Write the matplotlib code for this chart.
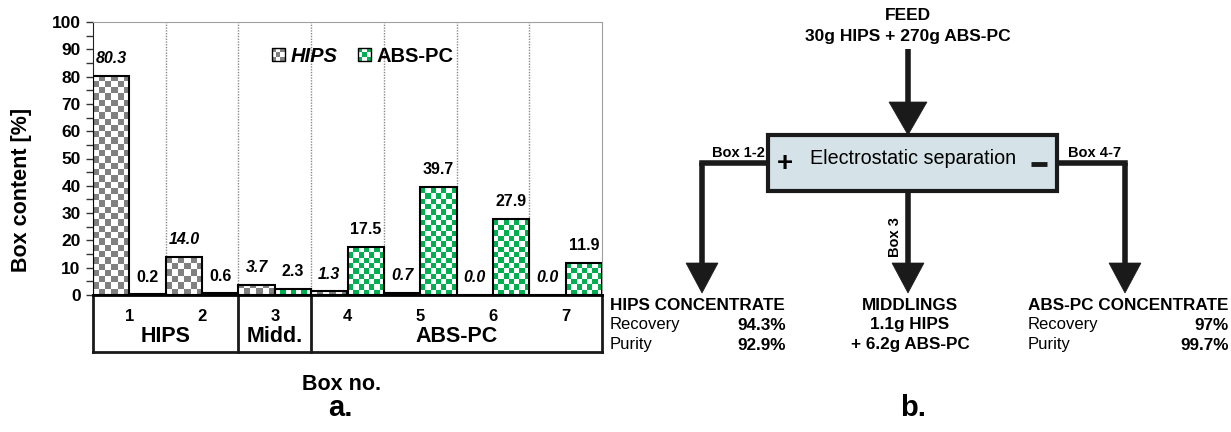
import numpy as np
import matplotlib
matplotlib.use('Agg')
import matplotlib.pyplot as plt
from matplotlib.colors import ListedColormap
from matplotlib.patches import Rectangle, Polygon, Patch
from matplotlib.legend_handler import HandlerBase

plt.rcParams['font.family'] = ['Liberation Sans', 'DejaVu Sans']

# a. box contents
box_no = ['1', '2', '3', '4', '5', '6', '7']
hips = [80.3, 14.0, 3.7, 1.3, 0.7, 0.0, 0.0]
abs_pc = [0.2, 0.6, 2.3, 17.5, 39.7, 27.9, 11.9]
groups = ['HIPS', 'Midd.', 'ABS-PC']
group_span = [(0, 1), (2, 2), (3, 6)]

# b. flowsheet texts
feed = ['FEED', '30g HIPS + 270g ABS-PC']
hips_conc = ['HIPS CONCENTRATE', ['Recovery', 'Purity'], ['94.3%', '92.9%']]
middlings = ['MIDDLINGS', '1.1g HIPS', '+ 6.2g ABS-PC']
abs_conc = ['ABS-PC CONCENTRATE', ['Recovery', 'Purity'], ['97%', '99.7%']]

GRAY = '#808080'
GREEN = '#00b050'
DARK = '#1a1a1a'


class CheckerHandler(HandlerBase):
    def __init__(self, color):
        super().__init__()
        self.color = color

    def create_artists(self, legend, orig_handle, xdescent, ydescent,
                       width, height, fontsize, trans):
        s = min(width, height)
        x0 = -xdescent + (width - s) / 2
        y0 = -ydescent + (height - s) / 2
        n = 3
        d = s / n
        arts = []
        for i in range(n):
            for j in range(n):
                c = self.color if (i + j) % 2 == 0 else 'white'
                arts.append(Rectangle((x0 + i*d, y0 + j*d), d, d, facecolor=c,
                                      edgecolor='none', transform=trans))
        arts.append(Rectangle((x0, y0), s, s, facecolor='none', edgecolor='k',
                              lw=1, transform=trans))
        return arts


def checker(ax, bars, color, ncol, sq):
    cmap = ListedColormap(['white', color])
    for b in bars:
        h = b.get_height()
        if h <= 0:
            continue
        nrow = int(np.ceil(h / sq))
        pat = np.add.outer(np.arange(nrow), np.arange(ncol)) % 2
        x0 = b.get_x()
        im = ax.imshow(pat, cmap=cmap, vmin=0, vmax=1, origin='lower',
                       extent=(x0, x0 + b.get_width(), 0, nrow*sq),
                       aspect='auto', interpolation='nearest', zorder=2)
        im.set_clip_path(b)


fig = plt.figure(figsize=(12.31, 4.32), dpi=100)
ax = fig.add_axes([93/1231, (432-295)/432, (602-93)/1231, (295-22)/432])

x = np.arange(len(box_no))
b1 = ax.bar(x - 0.5, hips, width=0.5, align='edge', facecolor='none',
            edgecolor='k', lw=1.5, zorder=3)
b2 = ax.bar(x, abs_pc, width=0.5, align='edge', facecolor='none',
            edgecolor='k', lw=1.5, zorder=3)
checker(ax, b1, GRAY, 6, 2.3)
checker(ax, b2, GREEN, 7, 1.95)

for xi, v in zip(x, hips):
    ax.annotate(f'{v:.1f}', (xi - 0.25, v), xytext=(0, 12.5), textcoords='offset points',
                ha='center', va='center', fontsize=11.5, fontweight='bold', fontstyle='italic')
for xi, v in zip(x, abs_pc):
    ax.annotate(f'{v:.1f}', (xi + 0.25, v), xytext=(0, 12.5), textcoords='offset points',
                ha='center', va='center', fontsize=11.5, fontweight='bold')

for g in np.arange(0.5, len(box_no) - 1, 1):
    ax.axvline(g, color='#8a8a8a', ls=(0, (1, 1)), lw=1, zorder=1)

ax.set_xlim(-0.5, len(box_no) - 0.5)
ax.set_ylim(0, 100)
ax.set_xticks([])
ax.set_yticks(range(0, 101, 10))
ax.set_yticks(range(5, 100, 10), minor=True)
ax.tick_params(axis='y', which='both', direction='out', length=5, width=1,
               color='#333333', labelsize=12.5, pad=4)
for lbl in ax.get_yticklabels():
    lbl.set_fontweight('bold')
ax.spines['left'].set_color('#222222')
ax.spines['top'].set_color('#a0a0a0')
ax.spines['right'].set_color('#a0a0a0')
ax.spines['bottom'].set_linewidth(2)
ax.spines['bottom'].set_zorder(4)

# category table under the axis
tr = ax.get_xaxis_transform()
tb = -0.209
ax.plot([-0.5, len(box_no) - 0.5], [tb, tb], color=DARK, lw=2, transform=tr, clip_on=False)
for lo, hi in group_span:
    ax.plot([lo - 0.5, lo - 0.5], [0, tb], color=DARK, lw=2, transform=tr, clip_on=False)
ax.plot([len(box_no) - 0.5] * 2, [0, tb], color=DARK, lw=2, transform=tr, clip_on=False)
for xi, t in zip(x, box_no):
    ax.text(xi, -0.08, t, transform=tr, ha='center', va='center', fontsize=12, fontweight='bold')
for (lo, hi), g in zip(group_span, groups):
    ax.text((lo + hi) / 2, -0.152, g, transform=tr, ha='center', va='center',
            fontsize=15.5, fontweight='bold')

h1, h2 = Patch(), Patch()
leg = ax.legend([h1, h2], ['HIPS', 'ABS-PC'],
                handler_map={h1: CheckerHandler(GRAY), h2: CheckerHandler(GREEN)},
                loc='center', bbox_to_anchor=(0.53, 0.875), ncol=2, frameon=False,
                prop={'weight': 'bold', 'size': 14.5}, handlelength=0.65, handleheight=0.65,
                handletextpad=0.3, columnspacing=1.0)
leg.get_texts()[0].set_fontstyle('italic')

# overlay in pixel units for labels and flowsheet
ov = fig.add_axes([0, 0, 1, 1])
ov.set_xlim(0, 1231)
ov.set_ylim(432, 0)
ov.axis('off')

ov.text(22, 190, 'Box content [%]', rotation=90, ha='center', va='center',
        fontsize=15.5, fontweight='bold')
ov.text(342, 385, 'Box no.', ha='center', va='center', fontsize=15.5, fontweight='bold')
ov.text(340, 408, 'a.', ha='center', va='center', fontsize=21, fontweight='bold')
ov.text(913, 408, 'b.', ha='center', va='center', fontsize=21, fontweight='bold')

LW = 4


def down_arrow(xc, y0, tip, half=16, head=30):
    ov.plot([xc, xc], [y0, tip - head + 2], color=DARK, lw=LW, solid_capstyle='butt')
    ov.add_patch(Polygon([(xc - half, tip - head), (xc + half, tip - head), (xc, tip)],
                         closed=True, facecolor=DARK, edgecolor=DARK, lw=0.5))


ov.text(908, 15, feed[0], ha='center', va='center', fontsize=12.5, fontweight='bold')
ov.text(908, 37, feed[1], ha='center', va='center', fontsize=12.5, fontweight='bold')
down_arrow(908, 49, 135, half=19, head=33)

ov.add_patch(Rectangle((768, 135), 289, 56, facecolor='#d5e2e7', edgecolor=DARK, lw=3, zorder=3))
ov.text(913, 158, 'Electrostatic separation', ha='center', va='center', fontsize=14.2, zorder=4)
ov.text(785, 164, '+', ha='center', va='center', fontsize=20, fontweight='bold', zorder=4)
ov.plot([1031, 1047], [164, 164], color=DARK, lw=3.5, solid_capstyle='butt', zorder=4)

ov.plot([768, 702], [163, 163], color=DARK, lw=LW, solid_capstyle='projecting')
down_arrow(702, 163, 293)
ov.plot([1057, 1125], [163, 163], color=DARK, lw=LW, solid_capstyle='projecting')
down_arrow(1125, 163, 293)
down_arrow(908, 191, 293)

ov.text(738, 153, 'Box 1-2', ha='center', va='center', fontsize=10.5, fontweight='bold')
ov.text(1095, 153, 'Box 4-7', ha='center', va='center', fontsize=10.5, fontweight='bold')
ov.text(895, 237, 'Box 3', rotation=90, ha='center', va='center', fontsize=10.5, fontweight='bold')

rows = [325, 345]
ov.text(610, 305, hips_conc[0], ha='left', va='center', fontsize=12.3, fontweight='bold')
for y, k, v in zip(rows, hips_conc[1], hips_conc[2]):
    ov.text(610, y, k, ha='left', va='center', fontsize=12)
    ov.text(786, y, v, ha='right', va='center', fontsize=12.3, fontweight='bold')

for y, t in zip([305] + rows, middlings):
    ov.text(910, y, t, ha='center', va='center', fontsize=12.3, fontweight='bold')

ov.text(1028, 305, abs_conc[0], ha='left', va='center', fontsize=12.3, fontweight='bold')
for y, k, v in zip(rows, abs_conc[1], abs_conc[2]):
    ov.text(1028, y, k, ha='left', va='center', fontsize=12)
    ov.text(1229, y, v, ha='right', va='center', fontsize=12.3, fontweight='bold')

fig.savefig('out.png', dpi=100)
